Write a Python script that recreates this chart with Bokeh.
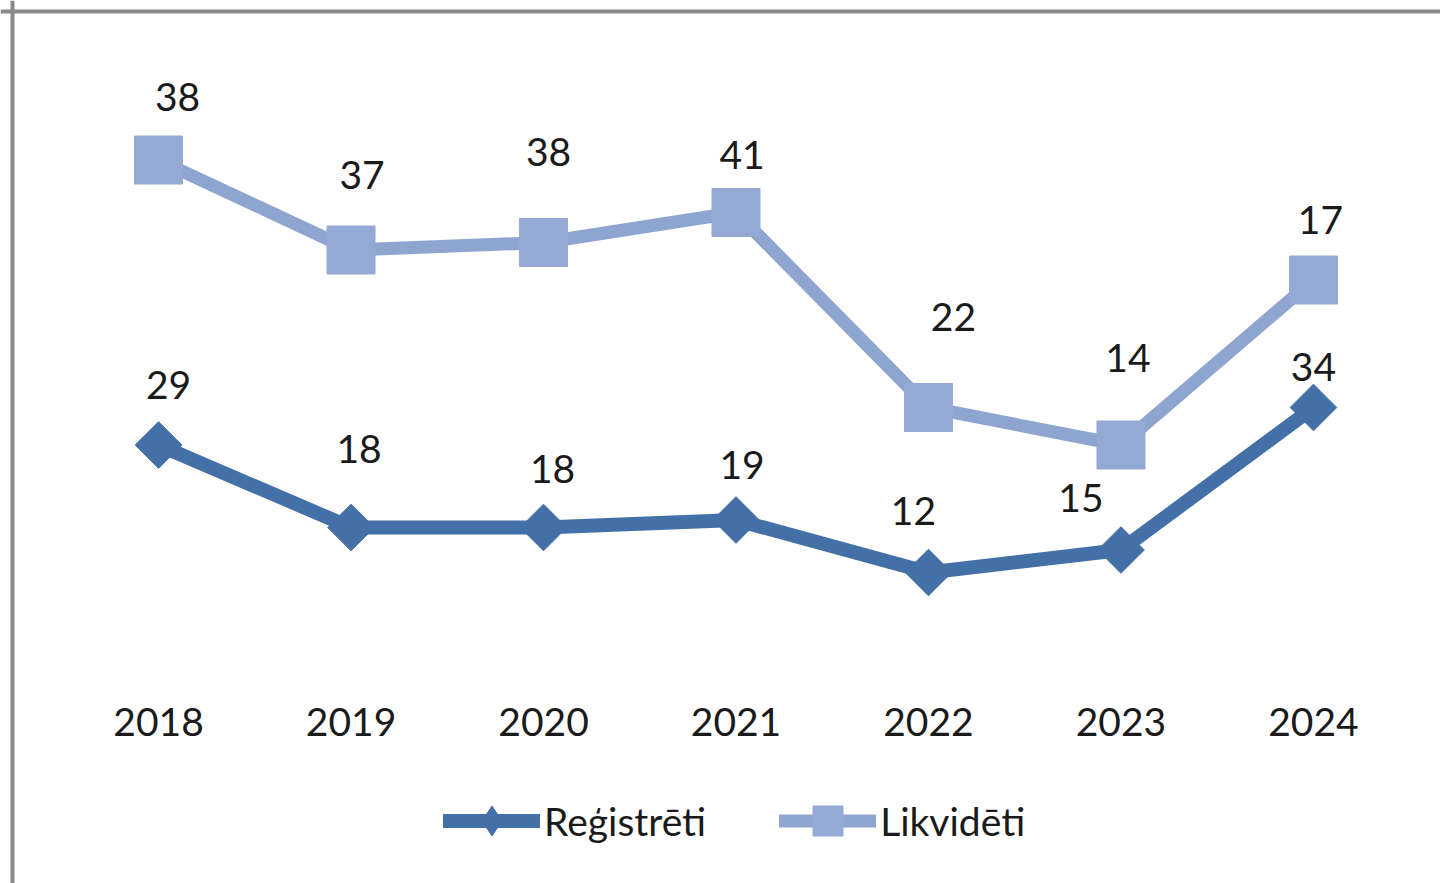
import numpy as np
from bokeh.plotting import figure
from bokeh.models import Range1d, Span, Legend, LegendItem
from bokeh.core.properties import value
from bokeh.embed import file_html
from bokeh.resources import INLINE

# ---- data ----
years = [2018, 2019, 2020, 2021, 2022, 2023, 2024]
year_labels = ["2018", "2019", "2020", "2021", "2022", "2023", "2024"]
registered = [29, 18, 18, 19, 12, 15, 34]      # Reģistrēti
liquidated = [38, 37, 38, 41, 22, 14, 17]      # Likvidēti
series_names = ["Reģistrēti", "Likvidēti"]

# stacked line chart: Likvidēti is drawn on top of Reģistrēti
liquidated_stacked = [r + l for r, l in zip(registered, liquidated)]

# label placement (pixel offsets, style only)
reg_dx = [10, 8, 9, 6, -15, -40, 0]
reg_dy = [-60, -78, -58, -55, -61, -52, -41]
liq_dx = [19, 11, 5, 6, 25, 7, 7]
liq_dy = [-63, -75, -91, -58, -91, -87, -60]

DARK = "#4470A8"
LIGHT_LINE = "#8EA6CF"
LIGHT_MARK = "#94A9D4"
FONT = "Lato"
FS = "39px"

p = figure(width=1440, height=883,
           x_range=Range1d(2017.179, 2024.660),
           y_range=Range1d(-29.47, 88.27),
           output_backend="svg", toolbar_location=None,
           x_axis_location=None, y_axis_location=None,
           min_border=0)
p.grid.visible = False
p.outline_line_color = None
p.background_fill_color = "white"
p.border_fill_color = "white"

# series
reg_line = p.line(years, registered, line_width=14, color=DARK,
                  line_join="round", line_cap="round")
reg_leg_marker = p.scatter(years, registered, marker="diamond", size=30,
                           color=DARK)
p.scatter(years, registered, marker="square", angle=np.pi / 4, size=33,
          color=DARK)
liq_line = p.line(years, liquidated_stacked, line_width=13, color=LIGHT_LINE,
                  line_join="round", line_cap="round")
liq_marker = p.scatter(years, liquidated_stacked, marker="square", size=48,
                       color=LIGHT_MARK)

# data labels
p.text(x=years, y=registered, text=[str(v) for v in registered],
       x_offset=reg_dx, y_offset=reg_dy, text_align="center",
       text_baseline="middle", text_font=value(FONT), text_font_size=FS,
       text_color="#1a1a1a")
p.text(x=years, y=liquidated_stacked, text=[str(v) for v in liquidated],
       x_offset=liq_dx, y_offset=liq_dy, text_align="center",
       text_baseline="middle", text_font=value(FONT), text_font_size=FS,
       text_color="#1a1a1a")

# category labels
p.text(x=years, y=-8, text=year_labels, text_align="center",
       text_baseline="middle", text_font=value(FONT), text_font_size=FS,
       text_color="#1a1a1a")

legend = Legend(items=[LegendItem(label=series_names[0], renderers=[reg_line, reg_leg_marker]),
                       LegendItem(label=series_names[1], renderers=[liq_line, liq_marker])],
                orientation="horizontal", location=(443, 25),
                glyph_width=97, glyph_height=75, label_standoff=4, spacing=73,
                padding=0, margin=0, border_line_color=None,
                background_fill_alpha=0,
                label_text_font=FONT, label_text_font_size=FS,
                label_text_color="#1a1a1a", label_text_baseline="middle")
p.add_layout(legend)

# chart frame (left and top edges visible)
p.add_layout(Span(location=12, location_units="canvas", dimension="height",
                  line_color="#8a8a8a", line_width=4))
p.add_layout(Span(location=11, location_units="canvas", dimension="width",
                  line_color="#8a8a8a", line_width=4))

open("out.html", "w").write(file_html(p, INLINE))
